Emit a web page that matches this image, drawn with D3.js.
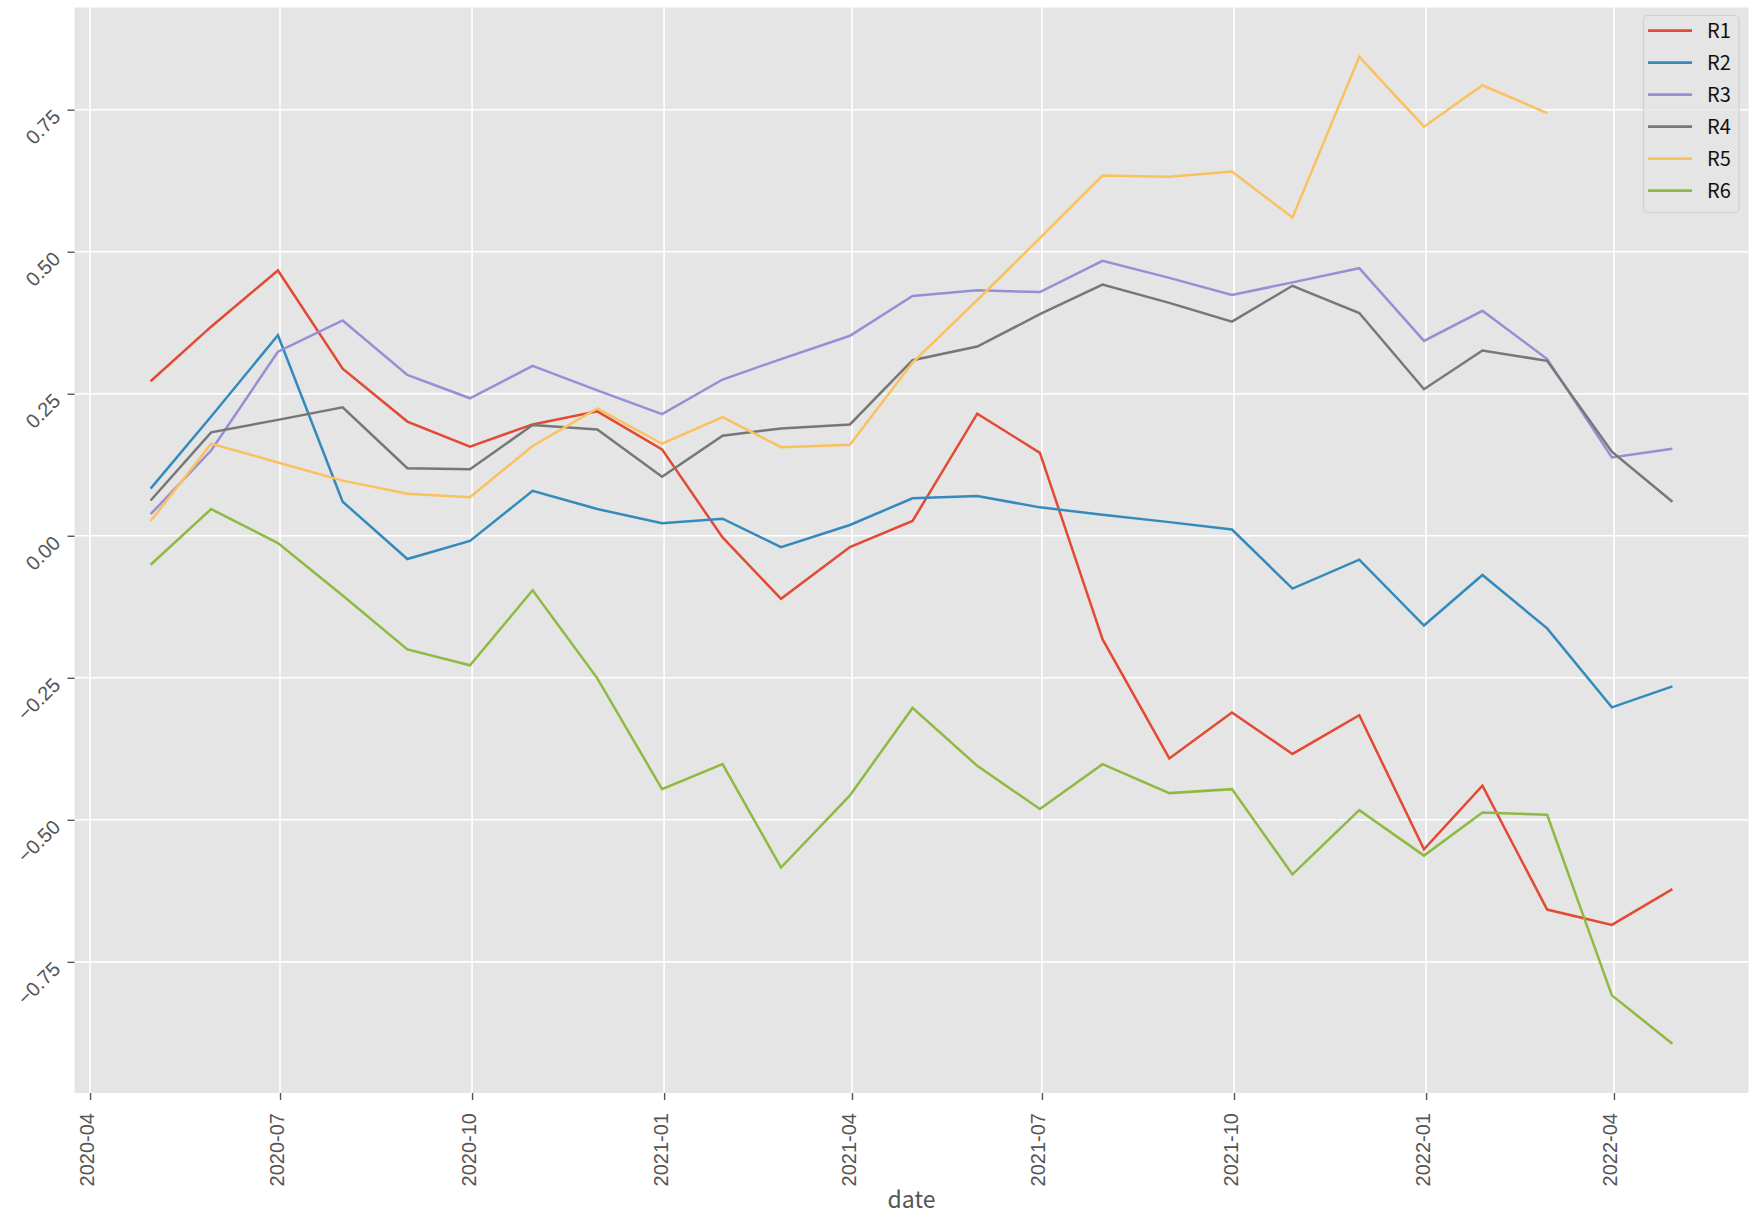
<!DOCTYPE html>
<html><head><meta charset="utf-8">
<script src="https://cdn.jsdelivr.net/npm/d3@7"></script>
<style>
html,body{margin:0;padding:0;background:#fff;}
svg{display:block;font-family:"Noto Sans CJK SC","Noto Sans",sans-serif;}
</style></head>
<body><svg id="chart" width="1758" height="1224"></svg>
<script>
const dates = ["2020-04-30","2020-05-29","2020-06-30","2020-07-31","2020-08-31","2020-09-30","2020-10-30","2020-11-30","2020-12-31","2021-01-29","2021-02-26","2021-03-31","2021-04-30","2021-05-31","2021-06-30","2021-07-30","2021-08-31","2021-09-30","2021-10-29","2021-11-30","2021-12-31","2022-01-28","2022-02-28","2022-03-31","2022-04-29"];
const seriesNames = ["R1","R2","R3","R4","R5","R6"];
const R1 = [0.272,0.368,0.467,0.294,0.201,0.157,0.196,0.219,0.152,-0.003,-0.111,-0.020,0.026,0.215,0.146,-0.182,-0.392,-0.311,-0.384,-0.316,-0.552,-0.440,-0.658,-0.685,-0.622];
const R2 = [0.083,0.210,0.353,0.060,-0.041,-0.009,0.079,0.047,0.022,0.030,-0.020,0.019,0.066,0.070,0.050,0.037,0.024,0.011,-0.093,-0.042,-0.158,-0.069,-0.163,-0.302,-0.265];
const R3 = [0.038,0.150,0.324,0.379,0.283,0.242,0.299,0.256,0.214,0.275,0.311,0.352,0.422,0.432,0.429,0.484,0.454,0.424,0.446,0.471,0.343,0.396,0.311,0.138,0.153];
const R4 = [0.062,0.182,0.204,0.226,0.119,0.117,0.195,0.187,0.104,0.176,0.189,0.196,0.309,0.333,0.390,0.442,0.410,0.377,0.440,0.392,0.258,0.326,0.308,0.148,0.060];
const R5 = [0.026,0.162,0.129,0.097,0.074,0.068,0.158,0.224,0.162,0.209,0.156,0.160,0.305,0.415,0.524,0.634,0.632,0.641,0.560,0.843,0.720,0.793,0.744,null,null];
const R6 = [-0.051,0.047,-0.013,-0.105,-0.200,-0.228,-0.096,-0.251,-0.446,-0.402,-0.584,-0.457,-0.303,-0.405,-0.481,-0.402,-0.453,-0.446,-0.596,-0.483,-0.563,-0.487,-0.491,-0.809,-0.894];
const colors = ["#E24A33","#348ABD","#988ED5","#777777","#FBC15E","#8EBA42"];
const yTickValues = [-0.75,-0.5,-0.25,0,0.25,0.5,0.75];
const yTickLabels = ["\u22120.75","\u22120.50","\u22120.25","0.00","0.25","0.50","0.75"];
const xTickLabels = ["2020-04","2020-07","2020-10","2021-01","2021-04","2021-07","2021-10","2022-01","2022-04"];
const xLabel = "date";

const allSeries = [R1,R2,R3,R4,R5,R6];
const parse = d3.utcParse("%Y-%m-%d");
const parseM = d3.utcParse("%Y-%m");
const dts = dates.map(parse);

const L = 74.5, R = 1748.5, T = 7.5, B = 1093;
const svg = d3.select("#chart");

const t0 = +dts[0], t1 = +dts[dts.length-1], span = t1 - t0;
const x = d3.scaleUtc().domain([new Date(t0 - 0.05*span), new Date(t1 + 0.05*span)]).range([L, R]);
const vals = allSeries.flat().filter(v => v != null);
const vmin = d3.min(vals), vmax = d3.max(vals), vr = vmax - vmin;
const y = d3.scaleLinear().domain([vmin - 0.05*vr, vmax + 0.05*vr]).range([B, T]);

svg.append("rect").attr("x", L).attr("y", T).attr("width", R-L).attr("height", B-T).attr("fill", "#E5E5E5");

const xTicks = xTickLabels.map(parseM);
const g = svg.append("g");
g.selectAll("line.gx").data(xTicks).join("line")
  .attr("x1", d => x(d)).attr("x2", d => x(d)).attr("y1", T).attr("y2", B)
  .attr("stroke", "#fff").attr("stroke-width", 1.6);
g.selectAll("line.gy").data(yTickValues).join("line")
  .attr("x1", L).attr("x2", R).attr("y1", d => y(d)).attr("y2", d => y(d))
  .attr("stroke", "#fff").attr("stroke-width", 1.6);

const xAxis = d3.axisBottom(x).tickValues(xTicks).tickSize(7).tickPadding(6).tickFormat((d,i) => xTickLabels[i]);
const gx = svg.append("g").attr("transform", `translate(0,${B})`).call(xAxis);
gx.select(".domain").remove();
gx.selectAll(".tick line").attr("stroke", "#555").attr("stroke-width", 1.4);
gx.selectAll(".tick text")
  .attr("fill", "#555").attr("font-size", 20)
  .attr("text-anchor", "end").attr("dy", null).attr("y", null)
  .attr("transform", "translate(3,20) rotate(-90)");

const yAxis = d3.axisLeft(y).tickValues(yTickValues).tickSize(7).tickFormat((d,i) => yTickLabels[i]);
const gy = svg.append("g").attr("transform", `translate(${L},0)`).call(yAxis);
gy.select(".domain").remove();
gy.selectAll(".tick line").attr("stroke", "#555").attr("stroke-width", 1.4);
gy.selectAll(".tick text")
  .attr("fill", "#555").attr("font-size", 20)
  .attr("text-anchor", "end").attr("x", null).attr("dy", null)
  .attr("transform", "translate(-13,8) rotate(-45)");

svg.append("text").attr("x", (L+R)/2).attr("y", 1208).attr("text-anchor", "middle")
  .attr("fill", "#555").attr("font-size", 23).text(xLabel);

const line = d3.line().defined(d => d.v != null).x(d => x(d.t)).y(d => y(d.v));
allSeries.forEach((s, i) => {
  const data = s.map((v, j) => ({t: dts[j], v: v}));
  svg.append("path").datum(data).attr("d", line)
    .attr("fill", "none").attr("stroke", colors[i]).attr("stroke-width", 2.5)
    .attr("stroke-linejoin", "miter").attr("stroke-linecap", "butt");
});

const lg = svg.append("g");
lg.append("rect").attr("x", 1643.5).attr("y", 15.5).attr("width", 95.5).attr("height", 197)
  .attr("rx", 4).attr("fill", "#E5E5E5").attr("fill-opacity", 0.8).attr("stroke", "#D0D0D0").attr("stroke-width", 1.2);
seriesNames.forEach((n, i) => {
  const yy = 30.7 + i*32;
  lg.append("line").attr("x1", 1648).attr("x2", 1692).attr("y1", yy).attr("y2", yy)
    .attr("stroke", colors[i]).attr("stroke-width", 2.8);
  lg.append("text").attr("x", 1707).attr("y", yy).attr("dy", "0.36em")
    .attr("font-size", 20).attr("fill", "#111").text(n);
});
</script></body></html>
